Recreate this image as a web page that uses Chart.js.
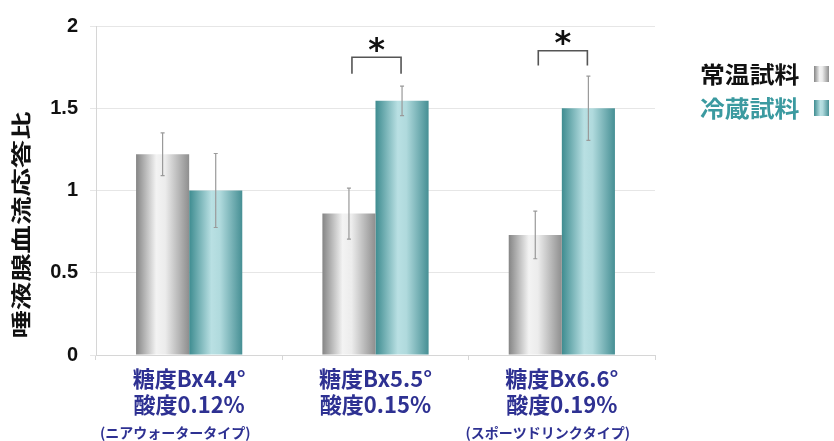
<!DOCTYPE html>
<html>
<head>
<meta charset="utf-8">
<script src="https://cdn.jsdelivr.net/npm/chart.js@4"></script>
<style>
  body { margin: 0; background: #fff; }
  #wrap { width: 834px; height: 441px; }
</style>
</head>
<body>
<div id="wrap"><canvas id="chart" width="834" height="441"></canvas></div>
<script>
// Data
const categories = [['糖度Bx4.4°', '酸度0.12%'], ['糖度Bx5.5°', '酸度0.15%'], ['糖度Bx6.6°', '酸度0.19%']];
const subLabels = ['(ニアウォータータイプ)', '', '(スポーツドリンクタイプ)'];
const seriesNames = ['常温試料', '冷蔵試料'];
const roomTemp = [1.22, 0.86, 0.73];
const roomTempErr = [0.13, 0.155, 0.145];
const chilled = [1.00, 1.545, 1.50];
const chilledErr = [0.225, 0.09, 0.195];
const sigGroups = [1, 2];
const sigTop = [1.81, 1.85];
const sigDrop = [1.71, 1.76];
const yTicks = [0, 0.5, 1, 1.5, 2];
const yTitle = '唾液腺血流応答比';

const FONT = '"Noto Sans CJK JP", "Noto Sans", sans-serif';
const NAVY = '#2e3192';
const CAT_PCT = 0.57;

const grayStops = [[0, '#858585'], [0.38, '#f3f3f3'], [0.55, '#ececec'], [1, '#8e8e8e']];
const tealStops = [[0, '#3e8c90'], [0.42, '#b9e0e3'], [0.58, '#b0dadd'], [1, '#468f94']];

function makeGradient(ctx2d, left, width, stops) {
    const g = ctx2d.createLinearGradient(left, 0, left + width, 0);
    stops.forEach(s => g.addColorStop(s[0], s[1]));
    return g;
}

function barFill(stops) {
    return ctx => {
        const chart = ctx.chart;
        if (!chart.chartArea || ctx.dataIndex === undefined) return stops[1][1];
        const xs = chart.scales.x;
        const center = xs.getPixelForValue(ctx.dataIndex);
        const barW = xs.width / categories.length * CAT_PCT / 2;
        const left = ctx.datasetIndex === 0 ? center - barW : center;
        return makeGradient(chart.ctx, left, barW, stops);
    };
}

// Error bars, brackets, legend, titles
const extras = {
    id: 'extras',
    afterDatasetsDraw(chart) {
        const { ctx, scales: { x, y }, chartArea } = chart;
        const errs = [roomTempErr, chilledErr];
        ctx.save();
        ctx.strokeStyle = '#9a9a9a';
        ctx.lineWidth = 1.2;
        chart.data.datasets.forEach((ds, di) => {
            chart.getDatasetMeta(di).data.forEach((bar, i) => {
                const hi = y.getPixelForValue(ds.data[i] + errs[di][i]);
                const lo = y.getPixelForValue(ds.data[i] - errs[di][i]);
                ctx.beginPath();
                ctx.moveTo(bar.x, hi); ctx.lineTo(bar.x, lo);
                ctx.moveTo(bar.x - 2, hi); ctx.lineTo(bar.x + 2, hi);
                ctx.moveTo(bar.x - 2, lo); ctx.lineTo(bar.x + 2, lo);
                ctx.stroke();
            });
        });

        // significance brackets
        ctx.strokeStyle = '#555';
        ctx.lineWidth = 1.6;
        ctx.fillStyle = '#111';
        ctx.font = 'bold 32px "DejaVu Sans", sans-serif';
        ctx.textAlign = 'center';
        ctx.textBaseline = 'middle';
        sigGroups.forEach((g, k) => {
            const x0 = chart.getDatasetMeta(0).data[g].x + 3;
            const x1 = chart.getDatasetMeta(1).data[g].x - 1;
            const yt = y.getPixelForValue(sigTop[k]);
            const yb = y.getPixelForValue(sigDrop[k]);
            ctx.beginPath();
            ctx.moveTo(x0, yb); ctx.lineTo(x0, yt); ctx.lineTo(x1, yt); ctx.lineTo(x1, yb);
            ctx.stroke();
            ctx.fillText('*', (x0 + x1) / 2, yt - 6);
        });

        // sub labels under categories
        ctx.fillStyle = NAVY;
        ctx.font = '600 14px ' + FONT;
        subLabels.forEach((s, i) => {
            if (s) ctx.fillText(s, x.getPixelForValue(i) - 14, chartArea.bottom + 78);
        });

        // y title
        ctx.save();
        ctx.translate(21, 225);
        ctx.rotate(-Math.PI / 2);
        ctx.scale(1.42, 1);
        ctx.fillStyle = '#111';
        ctx.font = 'bold 20px ' + FONT;
        ctx.fillText(yTitle, 0, 0);
        ctx.restore();

        // legend
        const colors = ['#111', '#3b9aa0'];
        const fills = [grayStops, tealStops];
        ctx.textAlign = 'left';
        ctx.font = 'bold 23px ' + FONT;
        seriesNames.forEach((name, i) => {
            const ly = 74 + i * 34;
            const lx = chartArea.right + 45;
            ctx.fillStyle = colors[i];
            ctx.save();
            ctx.translate(lx, ly);
            ctx.scale(1.08, 1);
            ctx.fillText(name, 0, 0);
            ctx.restore();
            const bx = lx + 114;
            ctx.fillStyle = makeGradient(ctx, bx, 15, fills[i]);
            ctx.fillRect(bx, ly - 8, 15, 16);
        });
        ctx.restore();
    }
};

new Chart(document.getElementById('chart'), {
    type: 'bar',
    data: {
        labels: categories,
        datasets: [
            { label: seriesNames[0], data: roomTemp, backgroundColor: barFill(grayStops) },
            { label: seriesNames[1], data: chilled, backgroundColor: barFill(tealStops) }
        ]
    },
    options: {
        responsive: false,
        animation: false,
        layout: { padding: { top: 26, right: 179, left: 0, bottom: 0 } },
        datasets: { bar: { categoryPercentage: CAT_PCT, barPercentage: 1 } },
        plugins: { legend: { display: false }, tooltip: { enabled: false } },
        scales: {
            x: {
                afterFit: s => { s.height = 86; },
                grid: { drawOnChartArea: false, tickLength: 5, color: '#d6d6d6' },
                border: { color: '#d6d6d6' },
                ticks: { color: NAVY, font: { family: FONT, size: 22, weight: 'bold', lineHeight: 1.18 }, padding: 6 }
            },
            y: {
                min: 0, max: 2,
                afterFit: s => { s.width = 96; },
                afterBuildTicks: s => { s.ticks = yTicks.map(v => ({ value: v })); },
                grid: { color: '#e6e6e6', tickLength: 6 },
                border: { color: '#d6d6d6' },
                ticks: {
                    color: '#111', padding: 12,
                    font: { family: '"Liberation Sans", Arial, sans-serif', size: 20, weight: 'bold' },
                    callback: v => String(v)
                }
            }
        }
    },
    plugins: [extras]
});
</script>
</body>
</html>
